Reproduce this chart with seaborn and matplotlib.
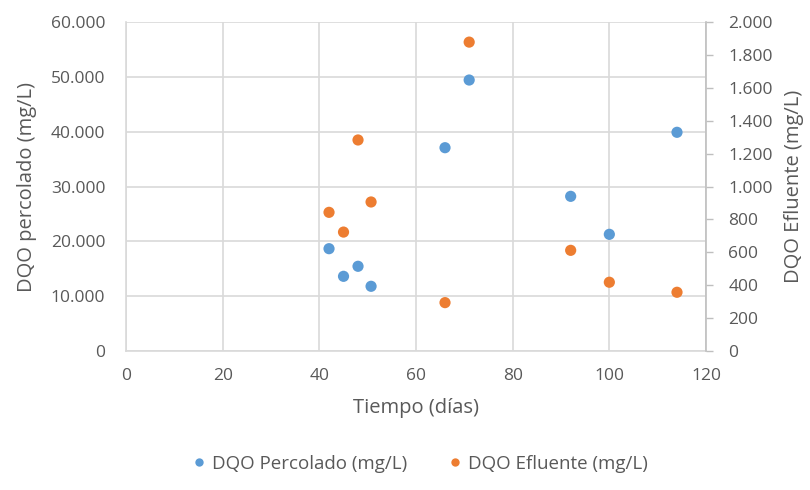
import matplotlib
matplotlib.use("Agg")
import matplotlib.pyplot as plt
from matplotlib.ticker import FuncFormatter, MultipleLocator
from matplotlib.lines import Line2D
import seaborn as sns
import pandas as pd

# Data
tiempo = [42, 45, 48, 50.7, 66, 71, 92, 100, 114]
dqo_percolado = [18660, 13620, 15450, 11800, 37080, 49425, 28210, 21280, 39890]
dqo_efluente = [843, 723, 1283, 906, 294, 1878, 612, 418, 357]

label_perc = "DQO Percolado (mg/L)"
label_efl = "DQO Efluente (mg/L)"

blue = "#5B9BD5"
orange = "#ED7D31"
grid_c = "#D9D9D9"
text_c = "#595959"

sns.set_theme(style="white")
plt.rcParams["font.family"] = ["Open Sans", "DejaVu Sans"]

df = pd.DataFrame({"t": tiempo, "p": dqo_percolado, "e": dqo_efluente})

fig = plt.figure(figsize=(8.1, 4.9), dpi=100)
ax = fig.add_axes([0.1556, 0.2837, 0.8716 - 0.1556, 0.955 - 0.2837])
ax2 = ax.twinx()

sns.scatterplot(data=df, x="t", y="p", ax=ax, color=blue, s=65, edgecolor="none", zorder=3)
sns.scatterplot(data=df, x="t", y="e", ax=ax2, color=orange, s=65, edgecolor="none", zorder=3)

fmt = FuncFormatter(lambda v, p: f"{v:,.0f}".replace(",", "."))

ax.set_xlim(0, 120)
ax.xaxis.set_major_locator(MultipleLocator(20))
ax.set_ylim(0, 60000)
ax.yaxis.set_major_locator(MultipleLocator(10000))
ax.yaxis.set_major_formatter(fmt)
ax2.set_ylim(0, 2000)
ax2.yaxis.set_major_locator(MultipleLocator(200))
ax2.yaxis.set_major_formatter(fmt)

ax.grid(True, color=grid_c, linewidth=1.2)
ax.set_axisbelow(True)
ax2.grid(False)

for a in (ax, ax2):
    for s in a.spines.values():
        s.set_color(grid_c)
        s.set_linewidth(1.2)
ax.spines["top"].set_visible(False)
ax2.spines["top"].set_visible(False)
ax.spines["right"].set_visible(False)
ax2.spines["left"].set_visible(False)
ax2.spines["bottom"].set_visible(False)
ax2.spines["right"].set_color("#BFBFBF")

ax.tick_params(axis="y", length=0, labelsize=12.5, labelcolor=text_c, pad=15)
ax.tick_params(axis="x", length=0, labelsize=12.5, labelcolor=text_c, pad=12)
ax2.tick_params(axis="y", length=5, width=1, color="#BFBFBF", labelsize=12.5, labelcolor=text_c, pad=11, direction="out")

ax.set_xlabel("Tiempo (días)", fontsize=14.5, color=text_c, labelpad=10)
ax.set_ylabel("DQO percolado (mg/L)", fontsize=14.5, color=text_c, labelpad=10)
ax2.set_ylabel("DQO Efluente (mg/L)", fontsize=14.5, color=text_c, labelpad=8)

handles = [
    Line2D([], [], marker="o", linestyle="none", markersize=6, color=blue, markeredgewidth=0),
    Line2D([], [], marker="o", linestyle="none", markersize=6, color=orange, markeredgewidth=0),
]
leg = fig.legend(handles, [label_perc, label_efl], loc="center", bbox_to_anchor=(0.517, 0.053),
                 ncol=2, frameon=False, fontsize=13.5, handletextpad=0.2, columnspacing=2.0,
                 handlelength=1.0)
for t in leg.get_texts():
    t.set_color(text_c)

fig.savefig("out.png", dpi=100)
